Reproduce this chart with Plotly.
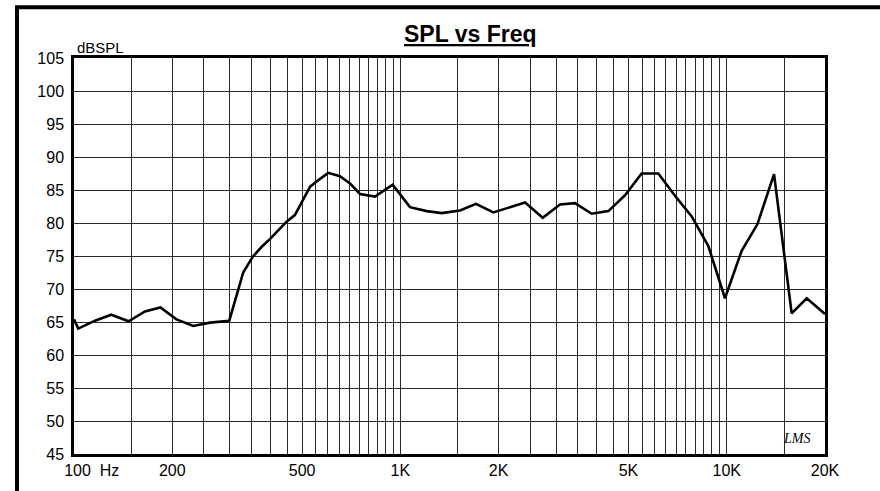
import plotly.graph_objects as go

# ---- data ----
freq_hz = [100, 103, 116, 130, 147, 165, 184, 206, 232, 261, 299, 330, 353, 376, 399,
           448, 475, 529, 561, 601, 653, 701, 752, 836, 947, 1070, 1204, 1339, 1523,
           1705, 1927, 2168, 2410, 2730, 3084, 3428, 3857, 4337, 4878, 5485, 6170,
           7024, 7808, 8782, 9876, 11110, 12410, 13960, 15810, 17580, 20000]
spl_db = [65.4, 64.0, 65.2, 66.1, 65.1, 66.6, 67.2, 65.4, 64.4, 64.9, 65.2, 72.5, 74.9,
          76.4, 77.6, 80.2, 81.2, 85.5, 86.5, 87.6, 87.1, 86.0, 84.4, 84.0, 85.8, 82.4,
          81.8, 81.5, 81.9, 82.9, 81.6, 82.4, 83.1, 80.8, 82.8, 83.0, 81.4, 81.8, 84.2,
          87.5, 87.5, 83.8, 81.0, 76.5, 68.6, 75.8, 79.8, 87.4, 66.3, 68.6, 66.2]

x_tick_vals = [100, 200, 500, 1000, 2000, 5000, 10000, 20000]
x_tick_text = ["\u00a0" * 8 + "100\u00a0\u00a0Hz", "200", "500", "1K", "2K", "5K", "10K", "20K"]
x_grid_vals = ([f for f in range(150, 1000, 50) if f not in (200, 500)] +
               [f for f in range(1500, 10000, 500) if f not in (2000, 5000)] +
               [15000])
y_tick_vals = list(range(45, 106, 5))

FONT = "Arial, Liberation Sans, sans-serif"
GRID = "#2a2a2a"

fig = go.Figure()
fig.add_trace(go.Scatter(x=freq_hz, y=spl_db, mode="lines",
                         line=dict(color="black", width=2.6), hoverinfo="skip"))

fig.update_layout(
    width=880, height=491,
    margin=dict(l=74, r=55, t=58, b=32),
    paper_bgcolor="white", plot_bgcolor="white",
    showlegend=False,
    font=dict(family=FONT, color="black", size=16),
    xaxis=dict(type="log", range=[2, 4.30103], tickmode="array",
               tickvals=x_tick_vals, ticktext=x_tick_text,
               showgrid=True, gridcolor=GRID, gridwidth=1,
               minor=dict(tickmode="array", tickvals=x_grid_vals, showgrid=True,
                          gridcolor=GRID, gridwidth=1, ticks=""),
               showline=True, linecolor="black", linewidth=2.5, mirror=True,
               ticks="", zeroline=False, tickfont=dict(size=16)),
    yaxis=dict(range=[45, 105], tickmode="array", tickvals=y_tick_vals,
               showgrid=True, gridcolor=GRID, gridwidth=1,
               showline=True, linecolor="black", linewidth=2.5, mirror=True,
               ticks="", zeroline=False, tickfont=dict(size=16), ticklabelstandoff=4),
    shapes=[dict(type="rect", xref="paper", yref="paper",
                 x0=(17 - 74) / 751, x1=1.3, y0=-0.3, y1=(459 - 6.5) / 401,
                 line=dict(color="black", width=4), fillcolor="rgba(0,0,0,0)", layer="above")],
    annotations=[
        dict(text="<b><u>SPL vs Freq</u></b>", xref="paper", yref="paper",
             x=(470 - 74) / 751, y=(459 - 34) / 401, xanchor="center", yanchor="middle",
             showarrow=False, font=dict(size=23, family=FONT)),
        dict(text="dBSPL", xref="paper", yref="paper",
             x=(75 - 74) / 751, y=(459 - 47) / 401, xanchor="left", yanchor="middle",
             showarrow=False, font=dict(size=15, family=FONT)),
        dict(text="<i>LMS</i>", xref="paper", yref="paper",
             x=(796 - 74) / 751, y=(459 - 443) / 401, xanchor="center", yanchor="middle",
             showarrow=False, font=dict(size=14, family="Liberation Serif, serif")),
    ],
)

fig.write_html("out.html", config={"displayModeBar": False},
               post_script="document.body.style.margin='0';")
